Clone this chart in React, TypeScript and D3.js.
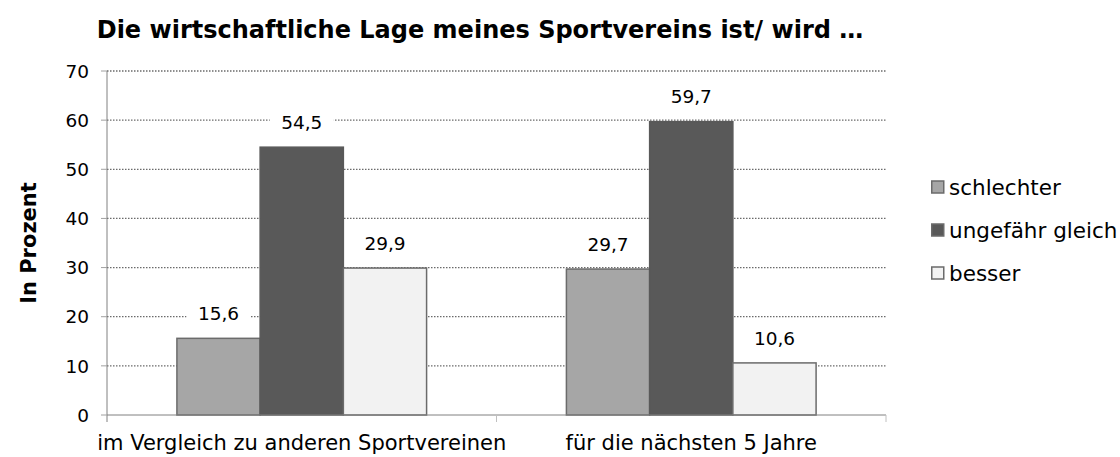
import React, { useEffect, useRef } from "react";
import * as d3 from "d3";

const categories = ["im Vergleich zu anderen Sportvereinen", "für die nächsten 5 Jahre"];
const seriesNames = ["schlechter", "ungefähr gleich", "besser"];
const schlechter = [15.6, 29.7];
const gleich = [54.5, 59.7];
const besser = [29.9, 10.6];
const yTicks = [0, 10, 20, 30, 40, 50, 60, 70];

const colors = ["#a6a6a6", "#595959", "#f2f2f2"];
const W = 1120;
const H = 457;
const margin = { top: 71, right: 234, bottom: 42, left: 107 };
const font = "DejaVu Sans, Verdana, sans-serif";

export default function App() {
  const svgRef = useRef<SVGSVGElement>(null);

  useEffect(() => {
    const svg = d3.select(svgRef.current);
    svg.selectAll("*").remove();
    const width = W - margin.left - margin.right;
    const height = H - margin.top - margin.bottom;
    const series = [schlechter, gleich, besser];

    const g = svg.append("g").attr("transform", `translate(${margin.left},${margin.top})`);

    const x0 = d3.scaleBand().domain(categories).range([0, width]);
    const x1 = d3.scaleBand().domain(seriesNames).range([0, x0.bandwidth()]).paddingOuter(0.84).paddingInner(0);
    const y = d3.scaleLinear().domain([0, 70]).range([height, 0]);

    // gridlines
    g.selectAll(".grid")
      .data(yTicks.filter(t => t > 0))
      .enter()
      .append("line")
      .attr("x1", 0)
      .attr("x2", width)
      .attr("y1", d => y(d))
      .attr("y2", d => y(d))
      .attr("stroke", "#6b6b6b")
      .attr("stroke-width", 1.3)
      .attr("stroke-dasharray", "1.5,1.5");

    // y axis
    g.append("line").attr("x1", 0).attr("x2", 0).attr("y1", 0).attr("y2", height + 7).attr("stroke", "#808080");
    g.selectAll(".ytick")
      .data(yTicks)
      .enter()
      .append("line")
      .attr("x1", -6)
      .attr("x2", 0)
      .attr("y1", d => y(d))
      .attr("y2", d => y(d))
      .attr("stroke", "#a0a0a0");
    g.selectAll(".ylabel")
      .data(yTicks)
      .enter()
      .append("text")
      .attr("x", -18)
      .attr("y", d => y(d))
      .attr("dy", "0.36em")
      .attr("text-anchor", "end")
      .style("font-family", font)
      .style("font-size", "18.5px")
      .text(d => d);

    // bars
    const groups = g.selectAll(".grp")
      .data(categories)
      .enter()
      .append("g")
      .attr("transform", d => `translate(${x0(d)},0)`);

    groups.selectAll("rect")
      .data((d, i) => series.map((s, k) => ({ name: seriesNames[k], v: s[i], k })))
      .enter()
      .append("rect")
      .attr("x", d => x1(d.name)!)
      .attr("width", x1.bandwidth())
      .attr("y", d => y(d.v))
      .attr("height", d => height - y(d.v))
      .attr("fill", d => colors[d.k])
      .attr("stroke", d => (d.k === 1 ? "#595959" : "#6b6b6b"))
      .attr("stroke-width", 1.5);

    // data labels
    const labels = groups.selectAll(".lbl")
      .data((d, i) => series.map((s, k) => ({ name: seriesNames[k], v: s[i], k })))
      .enter()
      .append("g")
      .attr("transform", d => `translate(${x1(d.name)! + x1.bandwidth() / 2},${y(d.v) - 25})`);
    labels.append("rect")
      .attr("x", -32)
      .attr("y", -13)
      .attr("width", 64)
      .attr("height", 26)
      .attr("fill", "white");
    labels.append("text")
      .attr("text-anchor", "middle")
      .attr("dy", "0.36em")
      .style("font-family", font)
      .style("font-size", "18.5px")
      .text(d => d.v.toFixed(1).replace(".", ","));

    // x axis
    g.append("line").attr("x1", 0).attr("x2", width).attr("y1", height).attr("y2", height).attr("stroke", "#808080");
    g.selectAll(".xtick")
      .data(categories.map(c => x0(c)! + x0.bandwidth()))
      .enter()
      .append("line")
      .attr("x1", d => d)
      .attr("x2", d => d)
      .attr("y1", height)
      .attr("y2", height + 7)
      .attr("stroke", "#c0c0c0");
    g.selectAll(".xlabel")
      .data(categories)
      .enter()
      .append("text")
      .attr("x", d => x0(d)! + x0.bandwidth() / 2)
      .attr("y", height + 35)
      .attr("text-anchor", "middle")
      .style("font-family", font)
      .style("font-size", "21px")
      .text(d => d);

    // title
    svg.append("text")
      .attr("x", 480)
      .attr("y", 38)
      .attr("text-anchor", "middle")
      .style("font-family", font)
      .style("font-size", "24px")
      .style("font-weight", "bold")
      .text("Die wirtschaftliche Lage meines Sportvereins ist/ wird …");

    // y title
    svg.append("text")
      .attr("transform", `translate(36,${margin.top + height / 2}) rotate(-90)`)
      .attr("text-anchor", "middle")
      .style("font-family", font)
      .style("font-size", "21px")
      .style("font-weight", "bold")
      .text("In Prozent");

    // legend
    const leg = svg.selectAll(".leg")
      .data(seriesNames)
      .enter()
      .append("g")
      .attr("transform", (d, i) => `translate(931,${187 + i * 43})`);
    leg.append("rect")
      .attr("x", 0.75)
      .attr("y", -6)
      .attr("width", 12)
      .attr("height", 12)
      .attr("fill", (d, i) => colors[i])
      .attr("stroke", "#6b6b6b")
      .attr("stroke-width", 1.5);
    leg.append("text")
      .attr("x", 18)
      .attr("dy", "0.36em")
      .style("font-family", font)
      .style("font-size", "21.5px")
      .text(d => d);
  }, []);

  return <svg ref={svgRef} width={W} height={H} style={{ position: "absolute", left: 0, top: 0 }} />;
}
